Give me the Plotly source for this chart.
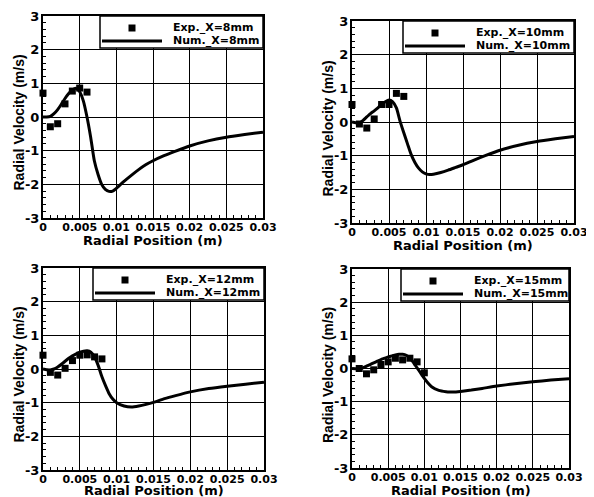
import plotly.graph_objects as go

# ---------------- data ----------------
labels = ["8mm", "10mm", "12mm", "15mm"]

exp_x1 = [0, 0.001, 0.002, 0.003, 0.004, 0.005, 0.006]
exp_y1 = [0.71, -0.29, -0.2, 0.39, 0.77, 0.86, 0.74]
num_x1 = [0, 0.0005, 0.001, 0.0015, 0.002, 0.0025, 0.003, 0.0035, 0.004, 0.0045, 0.005, 0.0055,
          0.006, 0.0065, 0.007, 0.0075, 0.008, 0.0085, 0.009, 0.0095, 0.01, 0.011, 0.012, 0.013,
          0.014, 0.015, 0.0165, 0.018, 0.02, 0.0225, 0.025, 0.0275, 0.03]
num_y1 = [0, 0.0, 0.02, 0.1, 0.22, 0.38, 0.55, 0.7, 0.8, 0.85, 0.75, 0.48,
          0.0, -0.6, -1.3, -1.7, -2.0, -2.15, -2.21, -2.2, -2.12, -1.92, -1.74, -1.57,
          -1.42, -1.3, -1.15, -1.02, -0.86, -0.71, -0.6, -0.52, -0.45]

exp_x2 = [0, 0.001, 0.002, 0.003, 0.004, 0.005, 0.006, 0.007]
exp_y2 = [0.52, -0.06, -0.18, 0.09, 0.52, 0.52, 0.85, 0.76]
num_x2 = [0, 0.0005, 0.001, 0.0015, 0.002, 0.0025, 0.003, 0.0035, 0.004, 0.0045, 0.005, 0.0055,
          0.006, 0.0065, 0.007, 0.0075, 0.008, 0.0085, 0.009, 0.0095, 0.01, 0.0105, 0.011, 0.012,
          0.013, 0.014, 0.015, 0.0165, 0.018, 0.02, 0.0225, 0.025, 0.0275, 0.03]
num_y2 = [0, -0.02, -0.03, 0.05, 0.15, 0.25, 0.33, 0.42, 0.52, 0.6, 0.65, 0.6,
          0.42, 0.02, -0.32, -0.65, -0.97, -1.2, -1.37, -1.48, -1.54, -1.56, -1.55, -1.5,
          -1.43, -1.35, -1.27, -1.13, -1.0, -0.84, -0.69, -0.58, -0.5, -0.43]

exp_x3 = [0, 0.001, 0.002, 0.003, 0.004, 0.005, 0.006, 0.007, 0.008]
exp_y3 = [0.41, -0.1, -0.18, 0.02, 0.25, 0.41, 0.42, 0.36, 0.3]
num_x3 = [0, 0.0005, 0.001, 0.0015, 0.002, 0.0025, 0.003, 0.0035, 0.004, 0.0045, 0.005, 0.0055,
          0.006, 0.0065, 0.007, 0.0075, 0.008, 0.0085, 0.009, 0.0095, 0.01, 0.011, 0.012, 0.013,
          0.014, 0.015, 0.0165, 0.018, 0.02, 0.0225, 0.025, 0.0275, 0.03]
num_y3 = [0, -0.02, -0.03, 0.0, 0.06, 0.14, 0.23, 0.32, 0.39, 0.45, 0.5, 0.53,
          0.54, 0.5, 0.36, 0.1, -0.23, -0.5, -0.74, -0.9, -1.0, -1.1, -1.13, -1.1,
          -1.05, -0.99, -0.88, -0.79, -0.68, -0.58, -0.51, -0.45, -0.39]

exp_x4 = [0, 0.001, 0.002, 0.003, 0.004, 0.005, 0.006, 0.007, 0.008, 0.009, 0.01]
exp_y4 = [0.29, 0.0, -0.16, -0.04, 0.12, 0.2, 0.31, 0.26, 0.31, 0.2, -0.13]
num_x4 = [0, 0.0005, 0.001, 0.0015, 0.002, 0.0025, 0.003, 0.0035, 0.004, 0.0045, 0.005, 0.0055,
          0.006, 0.0065, 0.007, 0.0075, 0.008, 0.0085, 0.009, 0.0095, 0.01, 0.0105, 0.011, 0.012,
          0.013, 0.0135, 0.014, 0.015, 0.0165, 0.018, 0.02, 0.0225, 0.025, 0.0275, 0.03]
num_y4 = [0, -0.01, -0.02, 0.02, 0.07, 0.12, 0.17, 0.22, 0.27, 0.31, 0.35, 0.38,
          0.41, 0.43, 0.43, 0.4, 0.32, 0.18, 0.02, -0.14, -0.3, -0.44, -0.55, -0.66,
          -0.7, -0.71, -0.71, -0.69, -0.65, -0.6, -0.53, -0.46, -0.4, -0.35, -0.31]

x_tickvals = [0, 0.005, 0.01, 0.015, 0.02, 0.025, 0.03]
x_ticktext = ["0", "0.005", "0.01", "0.015", "0.02", "0.025", "0.03"]
y_tickvals = [-3, -2, -1, 0, 1, 2, 3]
y_ticktext = ["-3", "-2", "-1", "0", "1", "2", "3"]
x_title = "Radial Position (m)"
y_title = "Radial Velocity (m/s)"

exps = [(exp_x1, exp_y1), (exp_x2, exp_y2), (exp_x3, exp_y3), (exp_x4, exp_y4)]
nums = [(num_x1, num_y1), (num_x2, num_y2), (num_x3, num_y3), (num_x4, num_y4)]

# ---------------- layout geometry (page pixels) ----------------
OFF = 8                      # default body margin of the html page
W, H = 594 - OFF, 497 - OFF  # figure size so it fills the window
boxes = [(43, 263, 16, 218), (352, 574, 21, 223), (43, 264, 268, 470), (352, 569, 269, 468)]
legend_w = [163, 171, 171, 168]


def px(x):
    return (x - OFF) / W


def py(y):
    return 1 - (y - OFF) / H


WIDE = "DejaVu Sans, Verdana, sans-serif"
NARROW = "Liberation Sans, Arial, Helvetica, sans-serif"

fig = go.Figure()
layout = dict(width=W, height=H, margin=dict(l=0, r=0, t=0, b=0, autoexpand=False),
              paper_bgcolor="white", plot_bgcolor="white", showlegend=False,
              font=dict(family=WIDE, color="black", weight="bold"))
shapes, annots = [], []

for i in range(4):
    n = "" if i == 0 else str(i + 1)
    x0, x1, yt, yb = boxes[i]
    ex, ey = exps[i]
    nx, ny = nums[i]
    fig.add_trace(go.Scatter(x=ex, y=ey, mode="markers", name="Exp._X=" + labels[i],
                             marker=dict(symbol="square", size=7, color="black"),
                             xaxis="x" + n, yaxis="y" + n, cliponaxis=False))
    fig.add_trace(go.Scatter(x=nx, y=ny, mode="lines", name="Num._X=" + labels[i],
                             line=dict(color="black", width=3, shape="spline", smoothing=0.6),
                             xaxis="x" + n, yaxis="y" + n))
    common = dict(showline=True, linecolor="black", linewidth=2, mirror=True,
                  showgrid=True, gridcolor="black", gridwidth=1, zeroline=False,
                  ticks="inside", ticklen=5, tickcolor="black", tickwidth=1,
                  automargin=False, tickangle=0, ticklabeloverflow="allow")
    layout["xaxis" + n] = dict(common, domain=[px(x0), px(x1)], anchor="y" + n,
                               range=[0, 0.03], tickvals=x_tickvals, ticktext=x_ticktext,
                               ticklabelstandoff=-2,
                               tickfont=dict(size=11, family=WIDE, weight="bold"),
                               minor=dict(ticks="inside", ticklen=3, dtick=0.001, tick0=0,
                                          tickcolor="black", showgrid=False))
    layout["yaxis" + n] = dict(common, domain=[py(yb), py(yt)], anchor="x" + n,
                               range=[-3, 3], tickvals=y_tickvals, ticktext=y_ticktext,
                               ticklabelstandoff=-1,
                               tickfont=dict(size=13, family=WIDE, weight="bold"),
                               minor=dict(ticks="inside", ticklen=3, dtick=0.2, tick0=0,
                                          tickcolor="black", showgrid=False))
    # axis titles
    annots.append(dict(text=x_title, xref="paper", yref="paper",
                       x=px((x0 + x1) / 2), y=py(min(yb + 22, 490)), xanchor="center",
                       yanchor="middle", showarrow=False,
                       font=dict(size=13, family=WIDE, weight="bold")))
    annots.append(dict(text=y_title, xref="paper", yref="paper", textangle=-90,
                       x=px(x0 - 24.5), y=py((yt + yb) / 2 + 6), xanchor="center",
                       yanchor="middle", showarrow=False,
                       font=dict(size=14, family=NARROW, weight="bold")))
    # legend box
    bl = x1 - legend_w[i]
    shapes.append(dict(type="rect", xref="paper", yref="paper", layer="above",
                       x0=px(bl), x1=px(x1), y0=py(yt + 32), y1=py(yt),
                       fillcolor="white", line=dict(color="black", width=1.5)))
    shapes.append(dict(type="rect", xref="paper", yref="paper", layer="above",
                       x0=px(bl + 28.5), x1=px(bl + 35.5), y0=py(yt + 15.5), y1=py(yt + 8.5),
                       fillcolor="black", line=dict(width=0)))
    shapes.append(dict(type="line", xref="paper", yref="paper", layer="above",
                       x0=px(bl + 2), x1=px(bl + 62), y0=py(yt + 25), y1=py(yt + 25),
                       line=dict(color="black", width=3)))
    for j, lab in enumerate(["Exp._X=" + labels[i], "Num._X=" + labels[i]]):
        annots.append(dict(text=lab, xref="paper", yref="paper",
                           x=px(bl + 71), y=py(yt + 11.5 + 13 * j), xanchor="left",
                           yanchor="middle", showarrow=False,
                           font=dict(size=11, family=WIDE, weight="bold")))

layout["shapes"] = shapes
layout["annotations"] = annots
fig.update_layout(**layout)
fig.write_html("out.html")
